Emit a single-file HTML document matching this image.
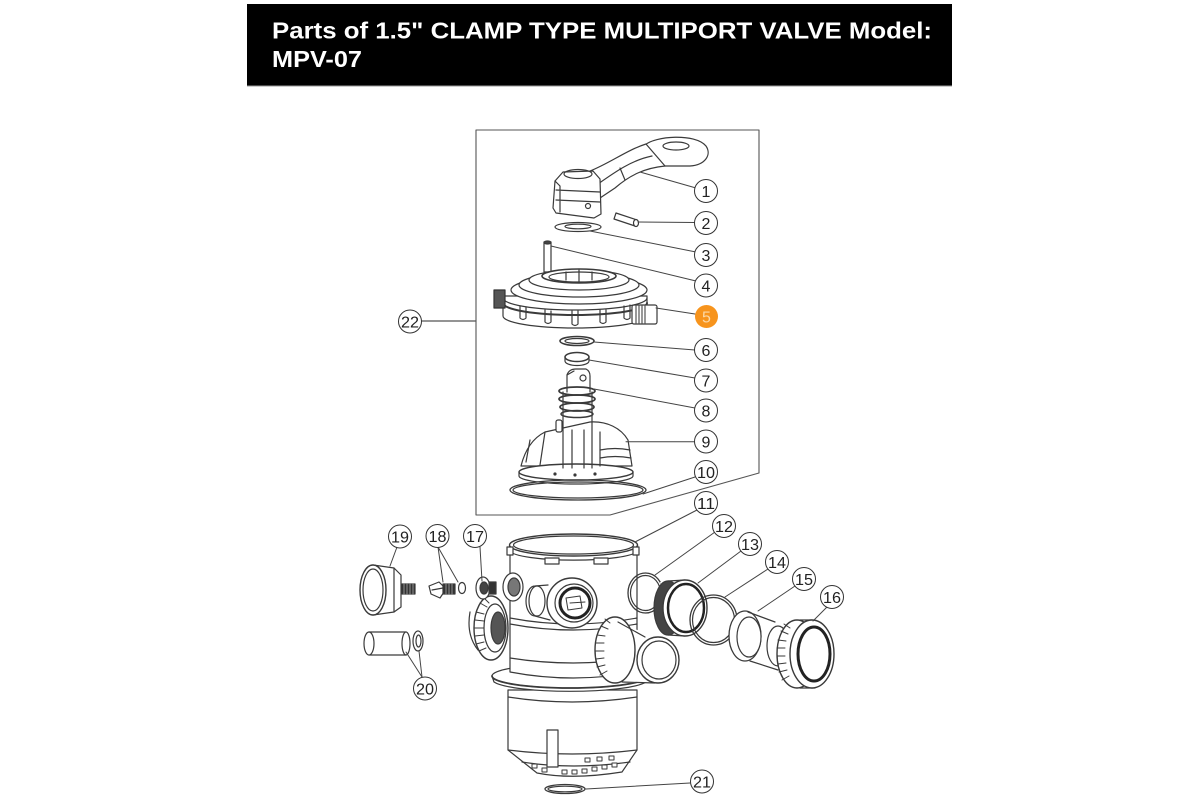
<!DOCTYPE html>
<html>
<head>
<meta charset="utf-8">
<style>
html,body{margin:0;padding:0;background:#fff;}
svg{display:block;}
</style>
</head>
<body>
<svg width="1200" height="800" viewBox="0 0 1200 800" xmlns="http://www.w3.org/2000/svg">
<rect x="0" y="0" width="1200" height="800" fill="#fff"/>
<!-- Header -->
<rect x="247" y="4" width="705" height="82" fill="#000"/>
<line x1="247" y1="86" x2="952" y2="86" stroke="#999" stroke-width="1"/>
<text x="272" y="38.5" fill="#fff" font-family="'Liberation Sans', Arial, sans-serif" font-weight="bold" font-size="23" textLength="660" lengthAdjust="spacingAndGlyphs">Parts of 1.5" CLAMP TYPE MULTIPORT VALVE Model:</text>
<text x="272" y="67" fill="#fff" font-family="'Liberation Sans', Arial, sans-serif" font-weight="bold" font-size="23" textLength="90" lengthAdjust="spacingAndGlyphs">MPV-07</text>

<g fill="none" stroke="#3a3a3a" stroke-width="1.2" stroke-linejoin="round" stroke-linecap="round">
<!-- Part 22 box -->
<path d="M476,130 L759,130 L759,473 L610,515 L476,515 Z" stroke="#555" stroke-width="1.1"/>
<line x1="421" y1="321" x2="476" y2="321" stroke="#555"/>

<!-- Handle (1) -->
<path d="M645,145 C655,136 695,133 706,146 C712,155 705,165 690,166 L665,166 C655,166 648,158 645,145 Z" fill="#fff"/>
<ellipse cx="676" cy="146" rx="13" ry="4"/>
<path d="M590,171 C610,163 627,150 646,144 L665,166 C645,168 630,175 615,188 L600,198 Z" fill="#fff"/>
<path d="M598,184 C615,172 632,160 652,156"/>
<path d="M620,168 L625,180"/>
<path d="M555,181 L563,172 L593,171 L600,179 L601,214 L594,218 L556,213 L553,208 Z" fill="#fff"/>
<ellipse cx="578" cy="174" rx="14" ry="4.5"/>
<path d="M556,190 L600,192 M556,200 L600,202 M555,181 L560,186 L560,212"/>
<circle cx="588" cy="206" r="2.5"/>

<!-- Pin 2 -->
<path d="M616,213 L637,220 L635,226 L614,219 Z" fill="#fff"/>
<ellipse cx="636" cy="223" rx="2.5" ry="3.5" fill="#fff"/>
<!-- Washer 3 -->
<ellipse cx="578" cy="227" rx="23" ry="4.5" fill="#fff"/>
<ellipse cx="578" cy="226.5" rx="13" ry="2.3"/>
<!-- Pin 4 -->
<rect x="544" y="242" width="7" height="30" fill="#fff"/>
<ellipse cx="547.5" cy="242.5" rx="3.5" ry="1.5" fill="#444"/>

<!-- Cap 5 -->
<path d="M503,296 L503,316 A72,12 0 0 0 647,316 L647,296 Z" fill="#fff"/>
<path d="M503,298 A72,12 0 0 0 647,298"/>
<path d="M503,303 A72,12 0 0 0 647,303" stroke-width="2"/>
<path d="M520,306 L520,318 Q523,321 526,318 L526,307 M545,310 L545,322 Q548,325 551,322 L551,311 M572,311 L572,324 Q575,327 578,324 L578,311 M600,310 L600,322 Q603,325 606,322 L606,310 M624,306 L624,318 Q627,321 630,318 L630,305"/>
<ellipse cx="579" cy="290" rx="68" ry="14" fill="#fff"/>
<ellipse cx="579" cy="285" rx="60" ry="12" fill="#fff"/>
<ellipse cx="579" cy="280" rx="50" ry="10" fill="#fff"/>
<ellipse cx="579" cy="276" rx="37" ry="7" fill="#fff" stroke-width="1.6"/>
<ellipse cx="579" cy="277" rx="30" ry="5" fill="#fff"/>
<path d="M566,272 L566,280 M579,270 L579,282 M592,272 L592,280"/>
<rect x="494" y="290" width="11" height="18" fill="#555" stroke="#333"/>
<rect x="632" y="305" width="25" height="19" rx="2" fill="#fff"/>
<path d="M636,306 L636,323 M639,306 L639,323 M642,306 L642,323 M645,306 L645,323" stroke="#555"/>

<!-- Gaskets 6, 7 -->
<ellipse cx="577" cy="341" rx="17" ry="4.5" fill="#fff" stroke-width="1.6"/>
<ellipse cx="577" cy="341" rx="12" ry="2.5"/>
<ellipse cx="577" cy="357" rx="12" ry="4.5" fill="#fff" stroke-width="1.5"/>
<path d="M565,357 L565,361 A12,4.5 0 0 0 589,361 L589,357"/>

<!-- Valve disc 9 -->
<path d="M521,466 C525,450 533,438 545,432 L590,422 C607,421 621,428 628,440 L632,466 Z" fill="#fff"/>
<path d="M600,450 Q615,447 630,450 M600,458 Q615,455 631,458"/>
<path d="M530,440 L526,462 M545,432 L540,465"/>
<ellipse cx="576" cy="472" rx="57" ry="8" fill="#fff" stroke-width="1.4"/>
<path d="M519,472 L519,476 A57,8 0 0 0 633,476 L633,472"/>
<circle cx="555" cy="474" r="1" fill="#333"/><circle cx="575" cy="475" r="1" fill="#333"/><circle cx="595" cy="474" r="1" fill="#333"/>
<rect x="556" y="420" width="6" height="12" rx="2" fill="#fff"/>
<!-- Stem 8 -->
<path d="M563,392 L563,468 M592,392 L592,468 M572,430 L572,468 M584,430 L584,468 M600,432 L600,466" />
<path d="M567,392 L567,375 Q569,369 576,369 L586,369 Q590,371 590,376 L590,392" fill="#fff"/>
<circle cx="583" cy="378" r="3"/>
<path d="M567,375 L574,371"/>
<ellipse cx="577" cy="391" rx="18" ry="4" stroke-width="1.8"/>
<ellipse cx="577" cy="399" rx="18" ry="4" stroke-width="1.8"/>
<ellipse cx="577" cy="407" rx="17" ry="4" stroke-width="1.8"/>
<ellipse cx="577" cy="414" rx="16" ry="3.5" stroke-width="1.5"/>

<!-- O-ring 10 -->
<ellipse cx="578" cy="490" rx="68" ry="10" stroke-width="1.3"/>
<ellipse cx="578" cy="490" rx="65" ry="8"/>

<!-- Main body lower -->
<path d="M508,690 L508,750 L537,773 Q572,780 622,772 L637,750 L637,690 Z" fill="#fff"/>
<path d="M508,697 Q572,707 637,697 M508,750 Q572,758 637,750 M522,762 Q572,770 630,762"/>
<rect x="547" y="730" width="11" height="37" fill="#fff"/>
<g fill="#fff" stroke-width="1">
<rect x="532" y="764" width="5" height="4"/><rect x="542" y="768" width="5" height="4"/><rect x="562" y="770" width="5" height="4"/><rect x="572" y="770" width="5" height="4"/><rect x="582" y="769" width="5" height="4"/><rect x="592" y="767" width="5" height="4"/><rect x="602" y="765" width="5" height="4"/><rect x="612" y="763" width="5" height="4"/>
<rect x="585" y="758" width="5" height="4"/><rect x="597" y="757" width="5" height="4"/><rect x="609" y="756" width="5" height="4"/>
</g>
<!-- flange -->
<path d="M492,676 L494,682 A78,12 0 0 0 646,682 L648,676 Z" fill="#fff"/>
<ellipse cx="570" cy="676" rx="78" ry="12" fill="#fff"/>
<path d="M492,676 A78,12 0 0 0 648,676" stroke-width="1.8"/>
<!-- mid body cylinder -->
<path d="M510,545 L510,672 Q573,684 637,672 L637,545 Z" fill="#fff"/>
<path d="M510,618 Q573,630 637,618 M510,624 Q573,636 637,624"/>
<path d="M510,658 Q573,668 637,658"/>
<!-- rim -->
<ellipse cx="573.5" cy="545" rx="64" ry="11" fill="#fff" stroke-width="1.4"/>
<ellipse cx="573.5" cy="545" rx="60" ry="9"/>
<path d="M509.5,545 L510,551 A64,10 0 0 0 637.5,551 L637.5,545"/>
<rect x="545" y="558" width="14" height="6" fill="#fff"/>
<rect x="594" y="558" width="14" height="6" fill="#fff"/>
<rect x="507" y="547" width="6" height="8" fill="#fff"/>
<rect x="633" y="547" width="6" height="8" fill="#fff"/>
<!-- front port -->
<path d="M548,585 L535,586 A9,15 0 0 0 535,616 L550,620" fill="#fff"/>
<ellipse cx="537" cy="601" rx="8" ry="15" fill="#fff"/>
<circle cx="572" cy="603" r="25" fill="#fff" stroke-width="1.4"/>
<circle cx="574" cy="603" r="19" fill="#fff"/>
<circle cx="575" cy="603" r="15" fill="#fff" stroke="#222" stroke-width="3"/>
<path d="M566,598 L580,596 L582,608 L568,610 Z M570,603 L585,602" stroke-width="1"/>

<!-- left side items: ring 17, second ring, union nut -->
<ellipse cx="513" cy="587" rx="10" ry="14" fill="#fff"/>
<ellipse cx="514" cy="587" rx="6" ry="9" fill="#777"/>
<path d="M470,612 Q466,635 478,650" />
<ellipse cx="491" cy="628" rx="17" ry="32" fill="#fff" stroke-width="1.4"/>
<ellipse cx="495" cy="628" rx="11" ry="24" fill="#fff"/>
<g stroke-width="1">
<path d="M476,612 L484,614 M475,620 L484,621 M474,628 L484,628 M475,636 L484,635 M476,644 L484,642 M479,651 L486,648 M480,603 L487,607 M484,598 L489,603"/>
</g>
<ellipse cx="498" cy="628" rx="7" ry="16" fill="#555"/>
<ellipse cx="483" cy="588" rx="7" ry="11" fill="#fff"/>
<ellipse cx="484" cy="588" rx="4" ry="6" fill="#444"/>
<rect x="489" y="582" width="7" height="12" fill="#333"/>

<!-- right union on body -->
<path d="M615,620 L653,637 L662,683 L620,683 Z" fill="#fff" stroke="none"/>
<ellipse cx="615" cy="650" rx="20" ry="33" fill="#fff" stroke-width="1.4"/>
<g stroke-width="1">
<path d="M597,635 L605,636 M596,643 L604,643 M595,651 L604,651 M596,659 L604,658 M597,667 L605,665 M600,675 L607,671 M601,626 L608,629 M605,619 L610,623"/>
</g>
<path d="M618,622 L645,637 M622,682 L655,683"/>
<ellipse cx="658" cy="660" rx="21" ry="23" fill="#fff" stroke-width="1.4"/>
<ellipse cx="659" cy="660" rx="17" ry="19"/>

<!-- Right parts 12-16 -->
<ellipse cx="645.5" cy="593" rx="17.5" ry="20" stroke-width="1.3"/>
<ellipse cx="645.5" cy="593" rx="15" ry="17.5"/>
<path d="M660,582 L685,580 L700,636 L675,637 Z" fill="#fff" stroke="none"/>
<ellipse cx="668" cy="608" rx="14" ry="27" fill="#444"/>
<path d="M668,581 L685,580 M668,635 L685,636"/>
<ellipse cx="685" cy="608" rx="22" ry="28" fill="#fff" stroke-width="1.4"/>
<ellipse cx="686" cy="608" rx="18" ry="24" fill="#fff" stroke="#222" stroke-width="2.5"/>
<ellipse cx="713.5" cy="620" rx="23.5" ry="25" stroke-width="1.3"/>
<ellipse cx="713.5" cy="620" rx="21" ry="22.5"/>
<!-- 15 tailpiece -->
<path d="M745,612 L785,628 L790,668 L745,660 Z" fill="#fff" stroke="none"/>
<ellipse cx="745" cy="636" rx="16" ry="25" fill="#fff" stroke-width="1.3"/>
<ellipse cx="749" cy="637" rx="12" ry="20" fill="#fff"/>
<path d="M748,612 L775,622 M750,661 L778,670"/>
<ellipse cx="778" cy="646" rx="11" ry="20"/>
<!-- 16 union nut -->
<path d="M790,620 L815,620 L830,686 L795,688 Z" fill="#fff" stroke="none"/>
<ellipse cx="797" cy="654" rx="20" ry="34" fill="#fff" stroke-width="1.4"/>
<g stroke-width="1">
<path d="M778,640 L786,641 M777,648 L785,648 M777,656 L785,656 M778,664 L786,663 M779,672 L787,670 M782,680 L789,676 M781,631 L788,634 M784,624 L790,628"/>
</g>
<path d="M800,620 L812,620 M800,688 L815,688"/>
<ellipse cx="812" cy="654" rx="22" ry="34" fill="#fff" stroke-width="1.4"/>
<ellipse cx="814" cy="654" rx="16" ry="27" fill="#fff" stroke="#222" stroke-width="3"/>

<!-- Left parts 18, 19, 20 -->
<path d="M373,565 L394,568 L401,575 L401,607 L394,612 L373,615 Z" fill="#fff"/>
<ellipse cx="373" cy="590" rx="13" ry="25" fill="#fff" stroke-width="1.4"/>
<ellipse cx="373" cy="590" rx="10" ry="21"/>
<path d="M394,568 L394,612"/>
<rect x="402" y="584" width="13" height="10" fill="#333"/>
<path d="M404,584 L404,594 M407,584 L407,594 M410,584 L410,594 M413,584 L413,594" stroke="#aaa" stroke-width="0.8"/>
<path d="M429,586 L439,582 L446,589 L440,598 L431,594 Z" fill="#fff"/>
<path d="M432,590 L443,588"/>
<rect x="443" y="584" width="12" height="10" fill="#333"/>
<path d="M446,584 L446,594 M449,584 L449,594 M452,584 L452,594" stroke="#aaa" stroke-width="0.8"/>
<ellipse cx="462" cy="588" rx="3.5" ry="5.5"/>
<path d="M369,632 L406,632 L406,655 L369,655" fill="#fff"/>
<ellipse cx="369" cy="643.5" rx="5" ry="11.5" fill="#fff"/>
<ellipse cx="406" cy="643.5" rx="4" ry="11.5" fill="#fff"/>
<ellipse cx="418" cy="641" rx="5" ry="10" fill="#fff"/>
<ellipse cx="418.5" cy="641" rx="2.5" ry="6"/>

<!-- O-ring 21 -->
<ellipse cx="565" cy="789" rx="20" ry="4.5" stroke-width="1.3"/>
<ellipse cx="565" cy="789" rx="17" ry="2.8"/>

<!-- Leader lines -->
<g stroke="#444" stroke-width="1">
<line x1="640" y1="172" x2="696" y2="188"/>
<line x1="638" y1="222" x2="695" y2="222.5"/>
<line x1="590" y1="231" x2="696" y2="252"/>
<line x1="551" y1="246" x2="696" y2="281"/>
<line x1="656" y1="308" x2="695" y2="314"/>
<line x1="594" y1="342" x2="695" y2="350"/>
<line x1="589" y1="360" x2="695" y2="378"/>
<line x1="594" y1="389" x2="695" y2="408"/>
<line x1="626" y1="441.7" x2="695" y2="441.7"/>
<line x1="643" y1="494" x2="695" y2="477"/>
<line x1="635" y1="542" x2="697" y2="510"/>
<line x1="655" y1="575" x2="715" y2="532"/>
<line x1="698" y1="583" x2="741" y2="551"/>
<line x1="725" y1="597" x2="768" y2="569"/>
<line x1="758" y1="611" x2="795" y2="586"/>
<line x1="813" y1="621" x2="827" y2="607"/>
<line x1="480" y1="547" x2="482" y2="581"/>
<line x1="438" y1="547" x2="443" y2="582"/>
<line x1="438" y1="547" x2="458" y2="582"/>
<line x1="397" y1="547" x2="390" y2="566"/>
<line x1="422" y1="677" x2="406" y2="652"/>
<line x1="422" y1="677" x2="419" y2="651"/>
<line x1="690" y1="783" x2="586" y2="789"/>
</g>
</g>

<!-- Labels -->
<g fill="#fff" stroke="#333" stroke-width="1">
<circle cx="706" cy="191" r="11.5"/>
<circle cx="706" cy="223" r="11.5"/>
<circle cx="706" cy="255" r="11.5"/>
<circle cx="706" cy="285.5" r="11.5"/>
<circle cx="706" cy="350" r="11.5"/>
<circle cx="706" cy="380.5" r="11.5"/>
<circle cx="706" cy="410.5" r="11.5"/>
<circle cx="706" cy="441.5" r="11.5"/>
<circle cx="706" cy="472" r="11.5"/>
<circle cx="706" cy="503" r="11.5"/>
<circle cx="724" cy="526" r="11.5"/>
<circle cx="750" cy="544" r="11.5"/>
<circle cx="777" cy="562" r="11.5"/>
<circle cx="804" cy="579" r="11.5"/>
<circle cx="832" cy="597" r="11.5"/>
<circle cx="475" cy="536" r="11.5"/>
<circle cx="437.5" cy="536" r="11.5"/>
<circle cx="400" cy="536.5" r="11.5"/>
<circle cx="425" cy="688.5" r="11.5"/>
<circle cx="702" cy="781.5" r="11.5"/>
<circle cx="410" cy="321.5" r="11.5"/>
</g>
<circle cx="706.5" cy="316.5" r="11.5" fill="#f7941d"/>
<g font-family="'Liberation Sans', 'DejaVu Sans', sans-serif" font-size="16" fill="#222" text-anchor="middle">
<text x="706" y="197">1</text>
<text x="706" y="229">2</text>
<text x="706" y="261">3</text>
<text x="706" y="291.5">4</text>
<text x="706.5" y="322.5" fill="#fbd8a8">5</text>
<text x="706" y="356">6</text>
<text x="706" y="386.5">7</text>
<text x="706" y="416.5">8</text>
<text x="706" y="447.5">9</text>
<text x="706" y="478" textLength="18" lengthAdjust="spacingAndGlyphs">10</text>
<text x="706" y="509" textLength="18" lengthAdjust="spacingAndGlyphs">11</text>
<text x="724" y="532" textLength="18" lengthAdjust="spacingAndGlyphs">12</text>
<text x="750" y="550" textLength="18" lengthAdjust="spacingAndGlyphs">13</text>
<text x="777" y="568" textLength="18" lengthAdjust="spacingAndGlyphs">14</text>
<text x="804" y="585" textLength="18" lengthAdjust="spacingAndGlyphs">15</text>
<text x="832" y="603" textLength="18" lengthAdjust="spacingAndGlyphs">16</text>
<text x="475" y="542" textLength="18" lengthAdjust="spacingAndGlyphs">17</text>
<text x="437.5" y="542" textLength="18" lengthAdjust="spacingAndGlyphs">18</text>
<text x="400" y="542.5" textLength="18" lengthAdjust="spacingAndGlyphs">19</text>
<text x="425" y="694.5" textLength="18" lengthAdjust="spacingAndGlyphs">20</text>
<text x="702" y="787.5" textLength="18" lengthAdjust="spacingAndGlyphs">21</text>
<text x="410" y="327.5" textLength="18" lengthAdjust="spacingAndGlyphs">22</text>
</g>
</svg>
</body>
</html>
